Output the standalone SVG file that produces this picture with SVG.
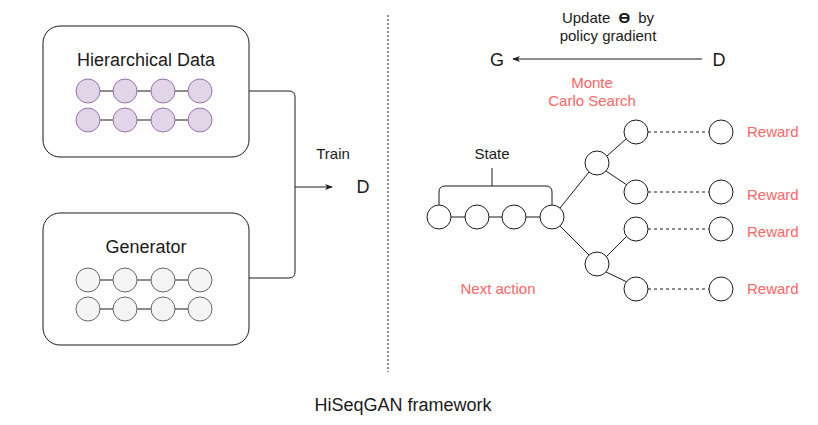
<svg xmlns="http://www.w3.org/2000/svg" width="818" height="425" viewBox="0 0 818 425">
<defs>
<style>
text{font-family:"Liberation Sans",Arial,sans-serif;fill:#1a1a1a}
.box{fill:#fff;stroke:#1a1a1a;stroke-width:1}
.p{fill:#e1d5e7;stroke:#9673a6;stroke-width:1}
.g{fill:#f5f5f5;stroke:#666;stroke-width:1}
.w{fill:#fff;stroke:#1a1a1a;stroke-width:1}
.ln{stroke:#1a1a1a;stroke-width:1;fill:none}
.dash{stroke:#1a1a1a;stroke-width:1;stroke-dasharray:3 3;fill:none}
.red{fill:#ff6666}
</style>
<marker id="arr" viewBox="0 0 10 10" refX="9" refY="5" markerWidth="8" markerHeight="8" orient="auto"><path d="M0,1 L10,5 L0,9 L3,5 Z" fill="#1a1a1a"/></marker>
</defs>
<rect width="818" height="425" fill="#fff"/>

<g id="connectors">
<path class="ln" d="M249,91 H289 Q295,91 295,97 V272 Q295,278 289,278 H249"/>
<path class="ln" d="M295,187 H332" marker-end="url(#arr)"/>
<line x1="388" y1="15" x2="388" y2="372" stroke="#1a1a1a" stroke-width="1" stroke-dasharray="2 2"/>
<path class="ln" d="M702,59 H513" marker-end="url(#arr)"/>
<path class="ln" d="M439,205 V192 Q439,186 445,186 H546 Q552,186 552,192 V205 M492,186 V168"/>
<line class="ln" x1="451" y1="217" x2="465" y2="217"/>
<line class="ln" x1="489" y1="217" x2="502" y2="217"/>
<line class="ln" x1="526" y1="217" x2="540" y2="217"/>
<line class="ln" x1="560" y1="208" x2="589" y2="172"/>
<line class="ln" x1="560" y1="226" x2="589" y2="255"/>
<line class="ln" x1="607" y1="156" x2="626" y2="139"/>
<line class="ln" x1="606" y1="171" x2="627" y2="185"/>
<line class="ln" x1="606" y1="257" x2="627" y2="236"/>
<line class="ln" x1="606" y1="272" x2="627" y2="282"/>
<line class="dash" x1="648" y1="132" x2="709" y2="132"/>
<line class="dash" x1="648" y1="192" x2="709" y2="192"/>
<line class="dash" x1="648" y1="229" x2="709" y2="229"/>
<line class="dash" x1="648" y1="289" x2="709" y2="289"/>
</g>

<g id="hierarchical-data">
<rect class="box" x="43" y="26" width="206" height="131" rx="17"/>
<text x="146" y="66" font-size="18" text-anchor="middle">Hierarchical Data</text>
<path class="ln" d="M100,91 H113 M137,91 H151 M175,91 H188 M100,120 H113 M137,120 H151 M175,120 H188"/>
<circle class="p" cx="88" cy="91" r="12"/><circle class="p" cx="125" cy="91" r="12"/><circle class="p" cx="163" cy="91" r="12"/><circle class="p" cx="200" cy="91" r="12"/>
<circle class="p" cx="88" cy="120" r="12"/><circle class="p" cx="125" cy="120" r="12"/><circle class="p" cx="163" cy="120" r="12"/><circle class="p" cx="200" cy="120" r="12"/>
</g>

<g id="generator">
<rect class="box" x="43" y="213" width="206" height="132" rx="17"/>
<text x="146" y="253" font-size="18" text-anchor="middle">Generator</text>
<path class="ln" d="M100,280 H113 M137,280 H151 M175,280 H188 M100,309 H113 M137,309 H151 M175,309 H188"/>
<circle class="g" cx="88" cy="280" r="12"/><circle class="g" cx="125" cy="280" r="12"/><circle class="g" cx="163" cy="280" r="12"/><circle class="g" cx="200" cy="280" r="12"/>
<circle class="g" cx="88" cy="309" r="12"/><circle class="g" cx="125" cy="309" r="12"/><circle class="g" cx="163" cy="309" r="12"/><circle class="g" cx="200" cy="309" r="12"/>
</g>

<g id="train-label"><text x="333" y="159" font-size="15" text-anchor="middle">Train</text></g>
<g id="D-left"><text x="363" y="193" font-size="18" text-anchor="middle">D</text></g>

<g id="update-label">
<text x="608" y="23" font-size="15" text-anchor="middle">Update <tspan font-weight="bold" dx="4">ϴ</tspan><tspan dx="4"> by</tspan></text>
<text x="608" y="41" font-size="15" text-anchor="middle">policy gradient</text>
</g>
<g id="G"><text x="497" y="66" font-size="18" text-anchor="middle">G</text></g>
<g id="D-right"><text x="719" y="66" font-size="18" text-anchor="middle">D</text></g>
<g id="mc-label">
<text class="red" x="592" y="88" font-size="15" text-anchor="middle">Monte</text>
<text class="red" x="592" y="106" font-size="15" text-anchor="middle">Carlo Search</text>
</g>

<g id="state">
<text x="492" y="159" font-size="15" text-anchor="middle">State</text>
<circle class="w" cx="439" cy="217" r="12"/><circle class="w" cx="477" cy="217" r="12"/><circle class="w" cx="514" cy="217" r="12"/><circle class="w" cx="552" cy="217" r="12"/>
</g>

<g id="tree">
<circle class="w" cx="597" cy="163" r="12"/>
<circle class="w" cx="597" cy="264" r="12"/>
<circle class="w" cx="636" cy="132" r="12"/>
<circle class="w" cx="636" cy="192" r="12"/>
<circle class="w" cx="636" cy="229" r="12"/>
<circle class="w" cx="636" cy="289" r="12"/>
<circle class="w" cx="721" cy="132" r="12"/>
<circle class="w" cx="721" cy="192" r="12"/>
<circle class="w" cx="721" cy="229" r="12"/>
<circle class="w" cx="721" cy="289" r="12"/>
</g>

<g id="rewards">
<text class="red" x="747" y="137" font-size="15">Reward</text>
<text class="red" x="747" y="200" font-size="15">Reward</text>
<text class="red" x="747" y="237" font-size="15">Reward</text>
<text class="red" x="747" y="294" font-size="15">Reward</text>
</g>
<g id="next-action"><text class="red" x="498" y="294" font-size="15" text-anchor="middle">Next action</text></g>
<g id="caption"><text x="403" y="411" font-size="18" text-anchor="middle">HiSeqGAN framework</text></g>
</svg>
